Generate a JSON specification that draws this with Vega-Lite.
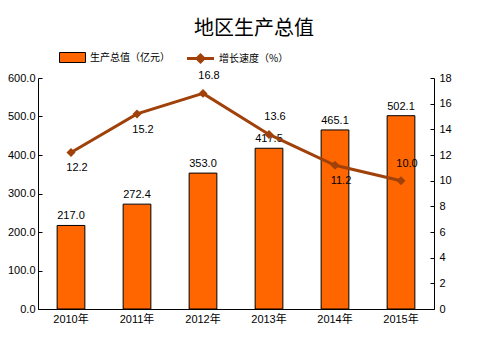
{
  "$schema": "https://vega.github.io/schema/vega-lite/v6.json",
  "width": 396,
  "height": 231,
  "autosize": "none",
  "padding": {"left": 38, "top": 78, "right": 63, "bottom": 46},
  "background": "white",
  "config": {
    "view": {"stroke": null},
    "font": "Liberation Sans, Noto Sans CJK SC",
    "axis": {"labelFont": "Liberation Sans, Noto Sans CJK SC", "labelFontSize": 11, "labelColor": "#000000", "domainColor": "#000000", "tickColor": "#000000", "grid": false, "title": null, "labelOverlap": false}
  },
  "title": {"text": "地区生产总值", "font": "Noto Sans CJK SC", "fontSize": 20, "fontWeight": "normal", "color": "#000000", "anchor": "middle", "dx": 18, "offset": 8},
  "data": {"values": [
    {"year": "2010年", "gdp": 217.0, "growth": 12.2},
    {"year": "2011年", "gdp": 272.4, "growth": 15.2},
    {"year": "2012年", "gdp": 353.0, "growth": 16.8},
    {"year": "2013年", "gdp": 417.5, "growth": 13.6},
    {"year": "2014年", "gdp": 465.1, "growth": 11.2},
    {"year": "2015年", "gdp": 502.1, "growth": 10.0}
  ]},
  "encoding": {
    "x": {"field": "year", "type": "nominal", "sort": null, "scale": {"paddingInner": 0.58, "paddingOuter": 0.29},
      "axis": {"labelAngle": 0, "bandPosition": 0, "tickSize": -4, "labelPadding": 8, "domainWidth": 1}}
  },
  "layer": [
    {
      "encoding": {
        "y": {"field": "gdp", "type": "quantitative", "scale": {"domain": [0, 600], "nice": false},
          "axis": {"values": [0, 100, 200, 300, 400, 500, 600], "format": ".1f", "tickSize": -4, "labelPadding": 7, "labelOverlap": false, "labelFlush": false}}
      },
      "layer": [
        {
          "mark": {"type": "bar", "stroke": "#000000", "strokeWidth": 1},
          "encoding": {
            "fill": {"datum": "生产总值（亿元）", "type": "nominal", "scale": {"range": ["#FF6600"]},
              "legend": {"orient": "none", "legendX": 24, "legendY": -31, "title": null, "padding": 0,
                "symbolType": "M-1.3,-0.5H1.3V0.5H-1.3Z", "symbolSize": 400, "symbolStrokeColor": "#000000", "symbolStrokeWidth": 1,
                "labelFontSize": 10, "labelOffset": 7, "labelColor": "#000000", "labelFont": "Noto Sans CJK SC"}}
          }
        },
        {
          "mark": {"type": "text", "baseline": "bottom", "dy": -4, "fontSize": 11, "color": "#000000"},
          "encoding": {
            "text": {"field": "gdp", "type": "quantitative", "format": ".1f"}
          }
        }
      ]
    },
    {
      "encoding": {
        "y": {"field": "growth", "type": "quantitative", "scale": {"domain": [0, 18], "nice": false},
          "axis": {"orient": "right", "values": [0, 2, 4, 6, 8, 10, 12, 14, 16, 18], "tickSize": -4, "labelPadding": 9, "labelOverlap": false, "labelFlush": false}}
      },
      "layer": [
        {
          "mark": {"type": "line", "strokeWidth": 3},
          "encoding": {
            "stroke": {"datum": "增长速度（%）", "type": "nominal", "scale": {"range": ["#A0410A"]},
              "legend": {"orient": "none", "legendX": 156, "legendY": -26, "title": null, "padding": 0,
                "symbolType": "M-2.7,0H2.7M0,-0.7L0.7,0L0,0.7L-0.7,0Z", "symbolSize": 100, "symbolStrokeWidth": 3, "symbolFillColor": "#A0410A",
                "labelFontSize": 10, "labelOffset": 12, "labelColor": "#000000", "labelFont": "Noto Sans CJK SC"}}
          }
        },
        {
          "mark": {"type": "point", "shape": "diamond", "filled": true, "color": "#A0410A", "size": 80, "opacity": 1},
          "encoding": {}
        },
        {
          "transform": [{"filter": "indexof(['2012年','2013年','2015年'], datum.year) >= 0"}],
          "mark": {"type": "text", "baseline": "middle", "dy": -17, "dx": 6, "fontSize": 11, "color": "#000000"},
          "encoding": {
            "text": {"field": "growth", "type": "quantitative", "format": ".1f"}
          }
        },
        {
          "transform": [{"filter": "indexof(['2012年','2013年','2015年'], datum.year) < 0"}],
          "mark": {"type": "text", "baseline": "middle", "dy": 16, "dx": 6, "fontSize": 11, "color": "#000000"},
          "encoding": {
            "text": {"field": "growth", "type": "quantitative", "format": ".1f"}
          }
        }
      ]
    }
  ],
  "resolve": {"scale": {"y": "independent", "fill": "independent", "stroke": "independent"}}
}
